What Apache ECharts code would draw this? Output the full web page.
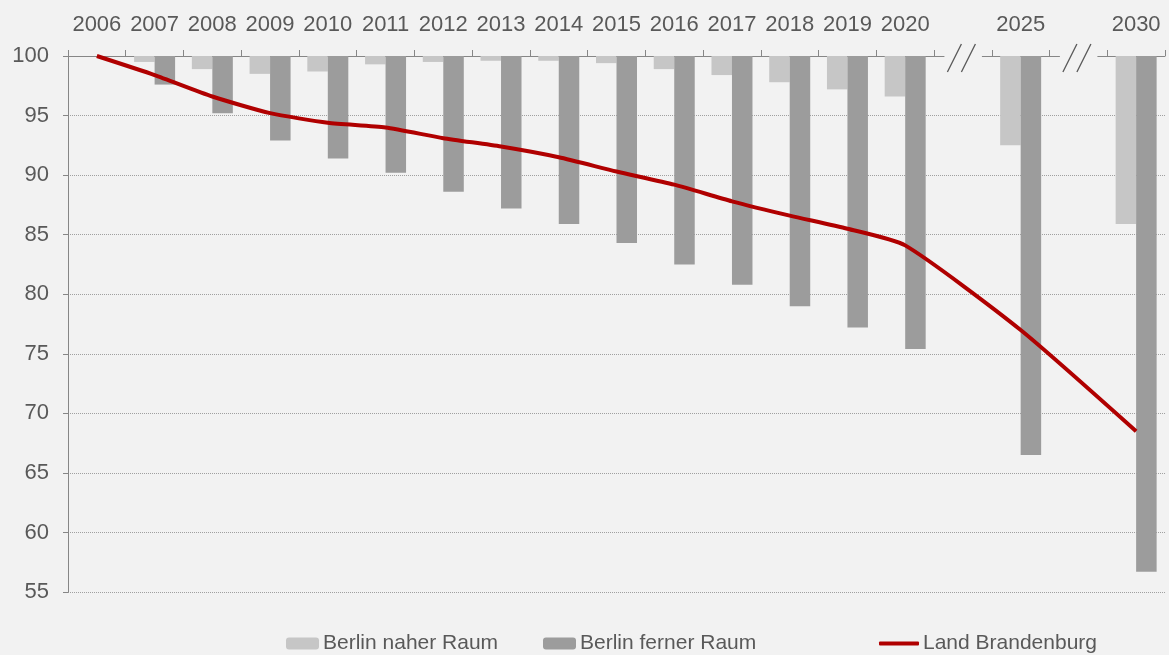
<!DOCTYPE html>
<html>
<head>
    <meta charset="UTF-8">
    <title>Bevölkerungsentwicklung Brandenburg</title>
    <script src="https://cdn.jsdelivr.net/npm/echarts/dist/echarts.min.js"></script>
    <style>
        html, body { margin: 0; padding: 0; background: #f2f2f2; }
        #main { width: 1169px; height: 655px; }
    </style>
</head>
<body>
    <div id="main"></div>

    <script type="text/javascript">
        // Kategorien (leere Einträge = Lücke mit Achsenbruch)
        const years = ['2006', '2007', '2008', '2009', '2010', '2011', '2012', '2013', '2014',
                       '2015', '2016', '2017', '2018', '2019', '2020', '', '2025', ' ', '2030'];
        const gapIndex = [15, 17];

        // Index 2006 = 100
        const naherRaum = [100, 99.5, 98.9, 98.5, 98.7, 99.3, 99.5, 99.6, 99.6,
                           99.4, 98.9, 98.4, 97.8, 97.2, 96.6, null, 92.5, null, 85.9];
        const fernerRaum = [100, 97.6, 95.2, 92.9, 91.4, 90.2, 88.6, 87.2, 85.9,
                            84.3, 82.5, 80.8, 79.0, 77.2, 75.4, null, 66.5, null, 56.7];
        const landBrandenburg = [100, 98.4, 96.6, 95.2, 94.4, 94.0, 93.1, 92.4, 91.5,
                                 90.3, 89.2, 87.8, 86.6, 85.5, 84.1, null, 77.0, null, 68.5];

        const yMin = 55, yMax = 100, yStep = 5;

        const font = 'Liberation Sans, Arial, sans-serif';
        const textColor = '#595959';
        const axisColor = '#868686';

        var myChart = echarts.init(document.getElementById('main'));

        // Balken hängen von 100 nach unten: transparenter Sockel + sichtbarer Rest bis 100
        const hang = arr => arr.map(v => v == null ? null : +(yMax - v).toFixed(2));

        var option = {
            backgroundColor: '#f2f2f2',
            animation: false,
            textStyle: { fontFamily: font },
            grid: { left: 68, right: 4, top: 56, bottom: 63 },
            legend: [
                { data: ['Berlin naher Raum'], left: 281 },
                { data: ['Berlin ferner Raum'], left: 538 },
                { data: ['Land Brandenburg'], left: 874, itemWidth: 40, itemHeight: 4, icon: 'roundRect' }
            ].map(l => Object.assign({
                top: 628,
                itemWidth: 33,
                itemHeight: 12,
                itemGap: 4,
                textStyle: { fontSize: 21, color: textColor, fontFamily: font, padding: [0, 0, 0, -1] }
            }, l)),
            xAxis: {
                type: 'category',
                position: 'top',
                data: years,
                axisLine: { show: true, lineStyle: { color: axisColor, width: 1 } },
                axisTick: { show: true, length: 6, lineStyle: { color: axisColor, width: 1 } },
                axisLabel: { interval: 0, margin: 20, fontSize: 22, color: textColor, fontFamily: font }
            },
            yAxis: {
                type: 'value',
                min: yMin,
                max: yMax,
                interval: yStep,
                axisLine: { show: true, lineStyle: { color: axisColor } },
                axisTick: { show: true, length: 5, lineStyle: { color: axisColor, width: 1 } },
                axisLabel: { margin: 19, fontSize: 22, color: textColor, fontFamily: font },
                splitLine: { lineStyle: { color: '#a0a0a0', type: [1, 1], width: 1 } }
            },
            series: [
                {
                    name: 'base1', type: 'bar', stack: 'nah', silent: true,
                    barWidth: '35.5%', barGap: '0%',
                    itemStyle: { color: 'transparent' },
                    data: naherRaum
                },
                {
                    name: 'Berlin naher Raum', type: 'bar', stack: 'nah',
                    barWidth: '35.5%', barGap: '0%',
                    itemStyle: { color: '#c6c6c6' },
                    data: hang(naherRaum)
                },
                {
                    name: 'base2', type: 'bar', stack: 'fern', silent: true,
                    barWidth: '35.5%', barGap: '0%',
                    itemStyle: { color: 'transparent' },
                    data: fernerRaum
                },
                {
                    name: 'Berlin ferner Raum', type: 'bar', stack: 'fern',
                    barWidth: '35.5%', barGap: '0%',
                    itemStyle: { color: '#9c9c9c' },
                    data: hang(fernerRaum)
                },
                {
                    name: 'Land Brandenburg', type: 'line',
                    smooth: 0.2,
                    symbol: 'none',
                    connectNulls: true,
                    z: 5,
                    lineStyle: { color: '#b00000', width: 4 },
                    itemStyle: { color: '#b00000' },
                    data: landBrandenburg
                }
            ]
        };

        myChart.setOption(option);

        // Achsenbruch "//" an den Lücken der oberen Achse
        const y0 = myChart.convertToPixel({ yAxisIndex: 0 }, yMax);
        const breaks = [];
        gapIndex.forEach(i => {
            const cx = myChart.convertToPixel({ xAxisIndex: 0 }, i);
            breaks.push({
                type: 'rect', z: 100, silent: true,
                shape: { x: cx - 18.5, y: y0 - 2, width: 37.5, height: 4 },
                style: { fill: '#f2f2f2' }
            });
            [-15.5, -1.5].forEach(dx => {
                breaks.push({
                    type: 'line', z: 101, silent: true,
                    shape: { x1: cx + dx, y1: y0 + 16, x2: cx + dx + 14, y2: y0 - 12 },
                    style: { stroke: '#595959', lineWidth: 1.3 }
                });
            });
        });
        myChart.setOption({ graphic: breaks });
    </script>
</body>
</html>
